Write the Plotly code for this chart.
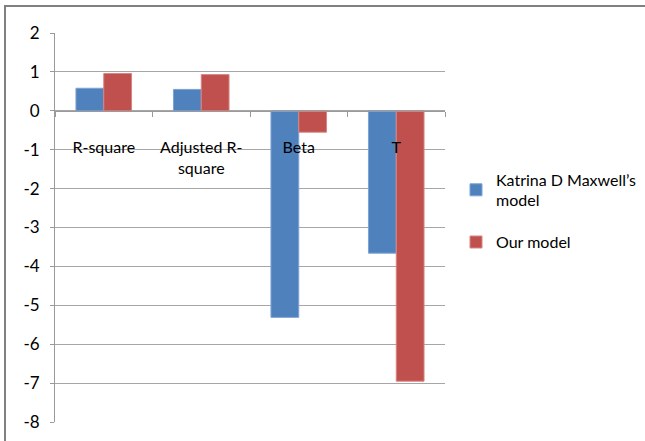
import plotly.graph_objects as go

categories = ["R-square", "Adjusted R-<br>square", "Beta", "T"]
maxwell = [0.58, 0.55, -5.31, -3.66]
ours = [0.96, 0.93, -0.55, -6.95]
series_names = ["Katrina D Maxwell’s<br>model", "Our model"]
y_ticks = [2, 1, 0, -1, -2, -3, -4, -5, -6, -7, -8]

FONT = "Lato, Liberation Sans, sans-serif"
W, H = 645, 441
L, R, T, B = 55, 200, 33, 19
pw, ph = W - L - R, H - T - B

fig = go.Figure()
fig.add_trace(go.Bar(x=categories, y=maxwell, name=series_names[0], legendgroup="g1",
                     marker=dict(color="#4F81BD", line=dict(color="#7DA2D4", width=1))))
fig.add_trace(go.Bar(x=categories, y=ours, name=series_names[1], legendgroup="g2",
                     marker=dict(color="#C0504D", line=dict(color="#D88582", width=1))))

def px_x(p):
    return (p - L) / pw

def px_y(p):
    return (H - B - p) / ph

fig.update_layout(
    width=W, height=H,
    margin=dict(l=L, r=R, t=T, b=B, autoexpand=False),
    paper_bgcolor="white", plot_bgcolor="white",
    barmode="group", bargap=0.43, bargroupgap=0,
    font=dict(family=FONT, size=16, color="#000000"),
    showlegend=True,
    legend=dict(x=px_x(456), y=px_y(211), xanchor="left", yanchor="middle",
                font=dict(family=FONT, size=16, color="#000000"),
                bgcolor="rgba(0,0,0,0)", tracegroupgap=18, itemwidth=30),
    xaxis=dict(
        type="category", anchor="free", position=0.8,
        showline=True, linecolor="#9a9a9a", linewidth=1,
        ticks="outside", ticklen=5, tickcolor="#9a9a9a", tickson="boundaries",
        showgrid=False, zeroline=False, tickangle=0,
        ticklabelstandoff=22,
        tickfont=dict(family=FONT, size=16, color="#000000"),
    ),
    yaxis=dict(
        range=[-8, 2], tickvals=y_ticks, ticktext=[str(v) for v in y_ticks],
        showgrid=True, gridcolor="#a6a6a6", gridwidth=1,
        zeroline=False,
        showline=True, linecolor="#9a9a9a", linewidth=1,
        ticks="outside", ticklen=4, tickcolor="#9a9a9a",
        ticklabelstandoff=7,
        tickfont=dict(family=FONT, size=17, color="#000000"),
    ),
    shapes=[dict(type="rect", xref="paper", yref="paper",
                 x0=px_x(5), x1=px_x(660), y0=px_y(460), y1=px_y(6),
                 line=dict(color="#808080", width=2), fillcolor="rgba(0,0,0,0)",
                 layer="below")],
)

fig.write_html("out.html")
